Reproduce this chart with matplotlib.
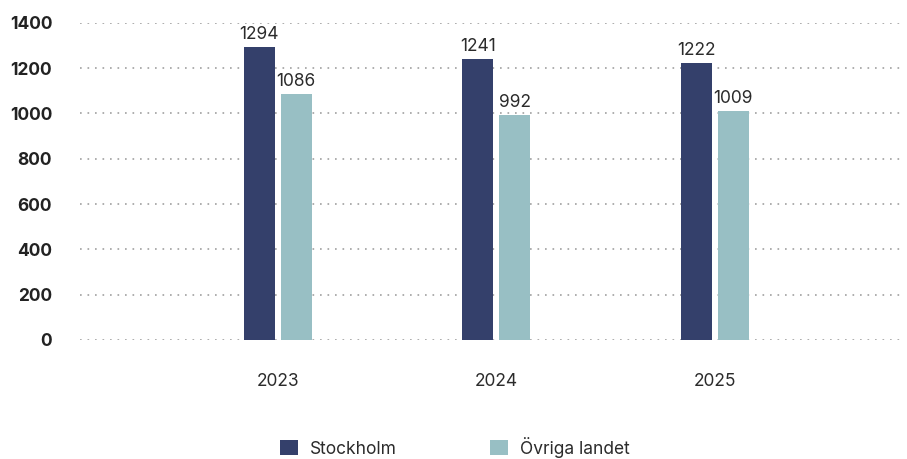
import matplotlib
matplotlib.use("Agg")
import matplotlib.pyplot as plt
import numpy as np
from matplotlib.patches import Patch

years = ["2023", "2024", "2025"]
stockholm = [1294, 1241, 1222]
ovriga = [1086, 992, 1009]
series_names = ["Stockholm", "Övriga landet"]
yticks = [0, 200, 400, 600, 800, 1000, 1200, 1400]

navy = "#34406B"
teal = "#98BFC4"

plt.rcParams["font.family"] = ["Inter", "DejaVu Sans"]

fig = plt.figure(figsize=(9.07, 4.59), dpi=100)
W, H = 907, 459
ax = fig.add_axes([80 / W, (H - 340) / H, (905 - 80) / W, (340 - 22.7) / H])

x = np.arange(len(years))
bw = 0.142
off = 0.0845
b1 = ax.bar(x - off, stockholm, bw, color=navy, zorder=3)
b2 = ax.bar(x + off, ovriga, bw, color=teal, zorder=3)

for bars, vals in ((b1, stockholm), (b2, ovriga)):
    for r, v in zip(bars, vals):
        ax.annotate(str(v), (r.get_x() + r.get_width() / 2, v),
                    xytext=(0, 3), textcoords="offset points",
                    ha="center", va="bottom", fontsize=12.5, color="#2b2b2b")

ax.set_xlim(-0.905, 2.87)
ax.set_ylim(0, 1400)
ax.set_yticks(yticks)
ax.set_yticklabels([str(t) for t in yticks], fontweight="bold", fontsize=12.5, color="#222222")
ax.set_xticks(x)
ax.set_xticklabels(years, fontsize=12.5, color="#2b2b2b")
ax.tick_params(axis="y", length=0, pad=20)
ax.tick_params(axis="x", length=0, pad=24)
for s in ax.spines.values():
    s.set_visible(False)
ax.yaxis.grid(True, linestyle=(0, (1, 3.5)), color="#a0a0a0", linewidth=1.2, zorder=0)
ax.set_axisbelow(True)

handles = [Patch(facecolor=navy, edgecolor="none"), Patch(facecolor=teal, edgecolor="none")]
fig.legend(handles, series_names, loc="center", bbox_to_anchor=(455 / W, 1 - 447 / H),
           ncol=2, frameon=False, fontsize=12.5, handlelength=1.0, handleheight=1.0,
           handletextpad=0.7, columnspacing=5.4, labelcolor="#2b2b2b")

fig.savefig("out.png", dpi=100)
